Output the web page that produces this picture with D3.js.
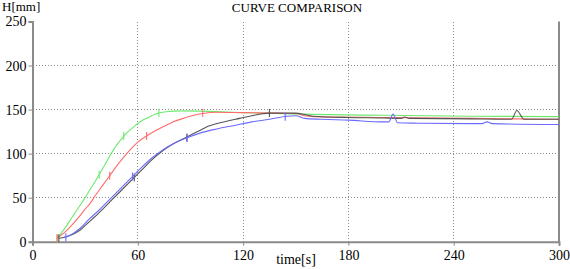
<!DOCTYPE html>
<html><head><meta charset="utf-8">
<script src="https://cdn.jsdelivr.net/npm/d3@7"></script>
<style>
html,body{margin:0;padding:0;background:#fff;}
svg{display:block;}
svg text{font-family:"Liberation Serif","Times New Roman",serif !important;fill:#000;}
</style></head>
<body>
<svg id="c" width="570" height="269"></svg>
<script>
const title = "CURVE COMPARISON";
const yLabel = "H[mm]";
const xLabel = "time[s]";
const xTicks = [0, 60, 120, 180, 240, 300];
const yTicks = [0, 50, 100, 150, 200, 250];

const greenT = [14,18,22,26,30,34,38,42,46,50,54,58,62,66,70,76,85,100,120,140,160,200,250,300];
const greenV = [4,14,26,38,50,63,76,90,104,115,124,131,137,141,145,147.5,148.5,148,146.5,145.5,144.5,143.5,142.5,142];
const greenMarkT = [14,38,52,72];
const greenMarkV = [4,76,120,146];

const redT = [14,18,22,26,30,33,36,40,44,48,52,56,60,65,70,75,80,86,92,97,105,120,140,150,155,160,200,250,300];
const redV = [4,10,18,27,37,44,53,64,75,86,96,105,113,120,126,131,136,140,143.5,145.5,147,146.5,146,145.5,143,142,141,140,139];
const redMarkT = [14,44,65,97];
const redMarkV = [4,75,120,146];

const blackT = [15,20,27,32,38,44,50,57,62,68,74,80,88,95,100,110,118,125,130,135,150,155,160,180,200,210,212,215,250,270,273,276,280,300];
const blackV = [4,6,13,22,33,45,57,71,81,93,103,111,119,126,131,136.5,140,143,145,146,146,144.5,142.5,141,140.5,140,141.5,140,139.5,139,139,149,139,139];
const blackMarkT = [15,58,88,135];
const blackMarkV = [4,73,118,146];

const blueT = [18,22,27,32,38,44,50,57,62,68,74,80,88,95,105,115,125,135,145,150,155,165,180,200,203,205.5,208,220,250,256,259,262,300];
const blueV = [5,8,15,25,36,48,60,74,84,95,104,111,118,123,128,132,136,139,142.5,143,140,139,138,136,136,145,135,134.5,134,134,136,134,133];
const blueMarkT = [19,57,88,144];
const blueMarkV = [5,74,118,142];

const seriesColors = ["#6ee86e", "#ff6b6b", "#555555", "#6b6bff"];

const svg = d3.select("#c");
const x = d3.scaleLinear().domain([0, 300]).range([32.5, 559]);
const y = d3.scaleLinear().domain([0, 250]).range([241.7, 21.5]);

// grid
const g = svg.append("g");
g.selectAll(".hg").data(yTicks.filter(d => d > 0 && d < 250)).enter().append("line")
  .attr("x1", x(0)).attr("x2", x(300)).attr("y1", d => y(d)).attr("y2", d => y(d))
  .attr("stroke", "#8a8a8a").attr("stroke-width", 1).attr("stroke-dasharray", "1.5,1.5")
  .attr("shape-rendering", "crispEdges");
g.selectAll(".vg").data(xTicks.filter(d => d > 0 && d < 300)).enter().append("line")
  .attr("y1", y(250)).attr("y2", y(0)).attr("x1", d => x(d)).attr("x2", d => x(d))
  .attr("stroke", "#8a8a8a").attr("stroke-width", 1).attr("stroke-dasharray", "1.5,1.5")
  .attr("shape-rendering", "crispEdges");

// axes
const yAxis = d3.axisLeft(y).tickValues(yTicks).tickSize(4).tickPadding(2);
const xAxis = d3.axisBottom(x).tickValues(xTicks).tickSize(4).tickPadding(2);
const ya = svg.append("g").attr("transform", `translate(${x(0)},0)`).call(yAxis);
const xa = svg.append("g").attr("transform", `translate(0,${y(0)})`).call(xAxis);
[ya, xa].forEach(a => {
  a.attr("font-family", "Liberation Serif, serif").attr("font-size", 14);
  a.select(".domain").attr("stroke", "#8a8a8a").attr("stroke-width", 2);
  a.selectAll(".tick line").attr("stroke", "#8a8a8a");
  a.selectAll("text").attr("fill", "#000");
});
xa.selectAll("text").attr("dy", "0.9em");
// right border
svg.append("line").attr("x1", x(300)).attr("x2", x(300)).attr("y1", y(250)).attr("y2", y(0))
  .attr("stroke", "#8a8a8a").attr("stroke-width", 2);

// series
const series = [
  {t: greenT, v: greenV, mt: greenMarkT, mv: greenMarkV},
  {t: redT, v: redV, mt: redMarkT, mv: redMarkV},
  {t: blackT, v: blackV, mt: blackMarkT, mv: blackMarkV},
  {t: blueT, v: blueV, mt: blueMarkT, mv: blueMarkV}
];
const line = d3.line().x(d => x(d[0])).y(d => y(d[1])).curve(d3.curveMonotoneX);
series.forEach((s, i) => {
  const pts = s.t.map((t, j) => [t, s.v[j]]);
  svg.append("path").attr("d", line(pts)).attr("fill", "none")
    .attr("stroke", seriesColors[i]).attr("stroke-width", 1.1);
  const mk = s.mt.map((t, j) => [t, s.mv[j]]);
  svg.selectAll(null).data(mk).enter().append("line")
    .attr("x1", d => x(d[0])).attr("x2", d => x(d[0]))
    .attr("y1", d => y(d[1]) - 4).attr("y2", d => y(d[1]) + 4)
    .attr("stroke", seriesColors[i]).attr("stroke-width", 1.1);
});

// labels
svg.append("text").attr("x", 297).attr("y", 12).attr("text-anchor", "middle")
  .style("font-size", "13px").text(title);
svg.append("text").attr("x", 2).attr("y", 11).style("font-size", "13px").text(yLabel);
svg.append("text").attr("x", 296).attr("y", 264).attr("text-anchor", "middle")
  .style("font-size", "14px").text(xLabel);
</script>
</body></html>
